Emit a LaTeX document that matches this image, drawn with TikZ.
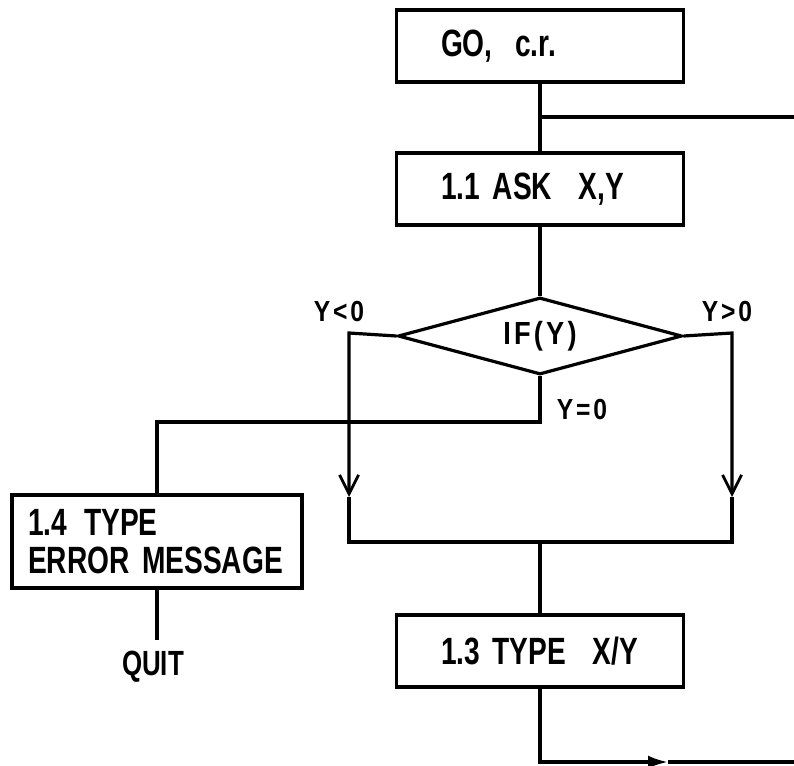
\documentclass[tikz,border=0pt]{standalone}
\usepackage{fontspec}
\setmainfont{Liberation Sans}[FakeStretch=0.74,UprightFont=* Bold]
\newfontfamily\lblfont{Liberation Sans}[FakeStretch=0.85,UprightFont=* Bold,LetterSpace=10]
\usetikzlibrary{shapes.geometric,arrows.meta}
\begin{document}
\begin{tikzpicture}[x=1pt,y=-1pt,line width=3.2pt,
  box/.style={draw,rectangle,minimum width=287pt,minimum height=72pt,inner sep=0pt,
    text width=198pt,align=left,font=\fontsize{38}{38}\selectfont},
  lbl/.style={inner sep=0pt,font=\lblfont\fontsize{29}{31}\selectfont},
  midarr/.style={-{Straight Barb[length=19pt,width=19pt,line width=2.8pt]}},
  endarr/.style={-{Latex[length=20pt,width=13pt]}}]
\useasboundingbox (0,0) rectangle (794,765);
% boxes
\node[box] (go) at (540,46) {\mbox{GO,\hspace{0.6em}c.r.}};
\node[box] (ask) at (540,189) {\mbox{1.1 ASK\hspace{0.7em}X,Y}};
\node[draw,diamond,aspect=3.7,inner sep=0pt,minimum width=284pt,minimum height=77pt,
  font=\lblfont\fontsize{32}{34}\selectfont] (if) at (540,336) {IF(Y)};
\node[box,minimum width=290pt,minimum height=93pt,text width=258pt] (err) at (157,541.5)
  {\mbox{1.4\hspace{0.45em}TYPE}\\\mbox{ERROR MESSAGE}};
\node[box] (div) at (540,651) {\mbox{1.3 TYPE\hspace{0.7em}X/Y}};
\node[inner sep=0pt,font=\fontsize{35}{37}\selectfont] (quit) at (153,667) {QUIT};
% labels
\node[lbl] (ylt) at (339,312) {Y<0};
\node[lbl] (ygt) at (727,312) {Y>0};
\node[lbl] (yeq) at (582,410) {Y=0};
% coordinates
\coordinate (j1) at (540,117);
\coordinate (topout) at (794,117);
\coordinate (lc) at (349,333);
\coordinate (ltip) at (349,497);
\coordinate (lb) at (349,542);
\coordinate (rc) at (732,333);
\coordinate (rtip) at (732,497);
\coordinate (rb) at (732,542);
\coordinate (mb) at (540,542);
\coordinate (zc) at (540,422);
\coordinate (zl) at (157,422);
\coordinate (qend) at (157,640);
\coordinate (bc) at (540,762);
\coordinate (btip) at (668,762);
\coordinate (bout) at (794,762);
% connectors
\draw (go.south) -- (ask.north);
\draw (j1) -- (topout);
\draw (ask.south) -- (if.north);
\draw[midarr] (if.west) -- (lc) -- (ltip);
\draw (ltip) -- (lb) -- (rb) -- (rtip);
\draw[midarr] (if.east) -- (rc) -- (rtip);
\draw (mb) -- (div.north);
\draw (if.south) -- (zc) -- (zl) -- (err.north);
\draw (err.south) -- (qend);
\draw[endarr] (div.south) -- (bc) -- (btip);
\draw (btip) -- (bout);
\end{tikzpicture}
\end{document}
